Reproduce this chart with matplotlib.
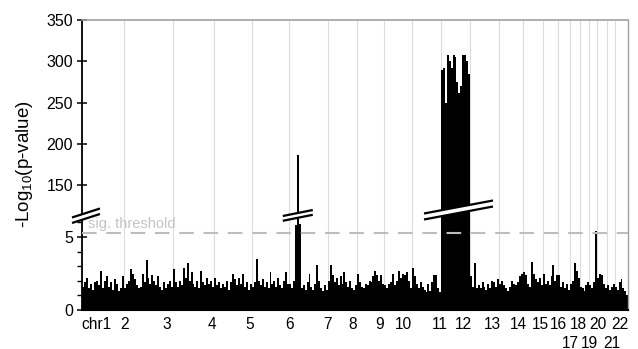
import numpy as np
import matplotlib
matplotlib.use("Agg")
import matplotlib.pyplot as plt
from matplotlib.transforms import blended_transform_factory

plt.rcParams["font.family"] = ["Liberation Sans", "DejaVu Sans"]
plt.rcParams["mathtext.default"] = "regular"
plt.rcParams["lines.scale_dashes"] = False

# --------------------------------------------------
# Data
# --------------------------------------------------

chrom_labels = ["chr1", "2", "3", "4", "5", "6", "7", "8", "9", "10", "11",
                "12", "13", "14", "15", "16", "17", "18", "19", "20",
                "21", "22"]

# labels that sit on a second row under the axis
second_row = ["17", "19", "21"]

# relative width of each chromosome on the x axis
chrom_sizes = [42, 49, 41, 38, 37, 39, 29, 27, 28, 29, 29,
               29, 24, 20, 15, 12, 10, 9, 8, 10, 8, 13]

# where each chromosome label sits on the x axis
label_pos = [14, 43, 85, 130, 168, 208, 245, 271, 298, 321, 358,
             381, 410, 436, 458, 476, 488, 496, 507, 516, 530, 538]

# -log10(p) along each chromosome, left to right
neglog_p = [
    [1.6, 1.9, 2.2, 1.5, 1.8, 1.4, 1.9, 2.0, 1.7, 2.7, 1.5, 2.0, 2.3, 1.6,
     1.9, 1.4, 2.1, 1.8, 1.3, 1.5, 2.3],
    [1.5, 1.8, 2.0, 2.8, 2.5, 2.1, 1.7, 1.5, 1.6, 2.5, 1.9, 3.4, 2.2, 1.8,
     2.4, 2.0, 1.7, 2.3, 1.6, 1.4, 1.9, 1.5, 1.8, 2.0, 1.6],
    [2.8, 1.9, 1.6, 2.0, 1.7, 2.9, 2.2, 3.2, 2.0, 2.6, 1.8, 1.6, 2.0, 1.5,
     2.7, 1.9, 1.7, 2.2, 1.8, 2.0, 1.6],
    [2.2, 1.7, 1.9, 1.5, 1.8, 1.6, 2.0, 1.4, 1.9, 2.5, 2.1, 1.7, 2.2, 1.8,
     2.5, 1.6, 1.9, 1.4, 1.8],
    [1.6, 1.9, 3.5, 2.0, 1.7, 2.1, 1.6, 1.9, 1.5, 2.6, 1.8, 2.0, 1.6, 2.2,
     1.7, 1.5, 2.0, 2.6, 1.8],
    [1.8, 1.5, 2.0, 5.8, 187, 5.9, 1.5, 1.7, 1.4, 1.9, 2.5, 1.6, 1.4, 1.8,
     3.1, 2.0, 1.5, 1.3, 1.7, 1.4],
    [2.0, 3.1, 2.4, 1.9, 2.2, 1.7, 2.3, 1.8, 2.6, 1.9, 1.6, 2.0, 1.5, 1.4, 1.7],
    [2.5, 1.9, 1.6, 1.5, 1.8, 1.7, 2.0, 1.9, 2.3, 2.7, 2.4, 2.0, 2.4, 1.8],
    [1.7, 1.5, 1.8, 1.9, 2.5, 1.7, 2.0, 2.7, 2.2, 2.5, 2.4, 2.6, 2.0, 1.5],
    [2.9, 2.3, 1.8, 1.5, 1.9, 1.6, 1.4, 1.2, 1.8, 1.3, 1.9, 2.4, 2.4, 1.5, 1.2],
    [290, 292, 250, 308, 300, 292, 308, 305, 275, 262, 270, 308, 308, 300, 285],
    [2.3, 1.6, 3.2, 1.5, 1.7, 1.5, 1.9, 1.6, 1.4, 1.8, 1.5, 2.0, 1.9, 1.6, 2.1],
    [1.8, 2.0, 1.7, 1.5, 1.3, 1.6, 2.0, 1.8, 1.7, 1.9, 2.3, 2.5],
    [2.6, 2.4, 1.8, 1.6, 3.3, 2.5, 2.1, 1.9, 2.2, 1.7],
    [2.5, 1.8, 2.0, 1.7, 2.3, 3.1, 2.0, 2.4],
    [2.4, 1.6, 1.9, 1.5, 1.8, 1.4],
    [1.8, 2.0, 3.2, 2.7, 2.2],
    [1.6, 1.5, 1.3, 1.7, 1.9],
    [1.7, 1.5, 1.9, 5.4],
    [2.2, 2.5, 2.4, 1.8, 1.5],
    [1.7, 1.4, 1.6, 1.8],
    [1.6, 1.4, 1.9, 2.1, 1.5, 1.3, 1.0],
]

sig_threshold = 5.3

upper_ticks = [150, 200, 250, 300, 350]
lower_ticks = [0, 5]

# --------------------------------------------------
# Positions
# --------------------------------------------------

starts = np.concatenate([[0], np.cumsum(chrom_sizes)[:-1]])
total = float(np.sum(chrom_sizes))

xs, ws, hs = [], [], []
for start, size, vals in zip(starts, chrom_sizes, neglog_p):
    n = len(vals)
    w = size / n
    for j, v in enumerate(vals):
        xs.append(start + (j + 0.5) * w)
        ws.append(w)
        hs.append(v)

# --------------------------------------------------
# Figure
# --------------------------------------------------

W, H = 638, 349
fig = plt.figure(figsize=(W / 100, H / 100), dpi=100)

left_px, right_px = 82, 628
top_px, break_px, bottom_px = 20, 215, 310

ax_hi = fig.add_axes([left_px / W, 1 - break_px / H,
                      (right_px - left_px) / W, (break_px - top_px) / H])
ax_lo = fig.add_axes([left_px / W, 1 - bottom_px / H,
                      (right_px - left_px) / W, (bottom_px - break_px) / H])

lo_top = (bottom_px - break_px) / (73.0 / 5)   # ~14.6 px per unit
hi_scale = (185 - 19.3) / 200.0                # px per unit in upper part
hi_bottom = 150 - (break_px - 185) / hi_scale

for ax in (ax_hi, ax_lo):
    ax.bar(xs, hs, width=ws, color="black", linewidth=0, zorder=2)
    ax.set_xlim(0, total)
    ax.set_xticks(starts)
    ax.set_xticklabels([])
    ax.xaxis.remove_overlapping_locs = False
    ax.grid(axis="x", which="major", color="#dcdcdc", linewidth=0.8, zorder=0)
    ax.set_axisbelow(True)
    ax.spines["left"].set_linewidth(1.3)
    ax.spines["left"].set_color("black")
    ax.spines["right"].set_color("#a0a0a0")
    ax.spines["right"].set_linewidth(1.0)
    ax.tick_params(axis="y", direction="inout", length=7, width=1.1,
                   labelsize=11.5, pad=3)

ax_hi.set_ylim(hi_bottom, 350)
ax_hi.set_yticks(upper_ticks)
ax_hi.spines["bottom"].set_visible(False)
ax_hi.spines["top"].set_color("#a0a0a0")
ax_hi.spines["top"].set_linewidth(1.2)
ax_hi.tick_params(axis="x", which="both", length=0, labelbottom=False)

ax_lo.set_ylim(0, lo_top)
ax_lo.set_yticks(lower_ticks)
ax_lo.set_yticks([1, 2, 3, 4, 6], minor=True)
ax_lo.tick_params(axis="y", which="minor", direction="out", length=3.5,
                  width=1.0)
ax_lo.spines["top"].set_visible(False)
ax_lo.spines["bottom"].set_linewidth(1.5)

row1 = [(p, lab) for p, lab in zip(label_pos, chrom_labels)
        if lab not in second_row]
row2 = [(p, lab) for p, lab in zip(label_pos, chrom_labels)
        if lab in second_row]
ax_lo.set_xticks([p for p, _ in row1], minor=True)
ax_lo.set_xticklabels([lab for _, lab in row1], minor=True)
ax_lo.tick_params(axis="x", which="both", length=0, labelsize=11.2, pad=5)

xtrans = blended_transform_factory(ax_lo.transData, ax_lo.transAxes)
row2_y = -(343 - bottom_px) / float(bottom_px - break_px)
for p, lab in row2:
    ax_lo.text(p, row2_y, lab, transform=xtrans, ha="center", va="center",
               fontsize=11.2)

# significance threshold
ax_lo.axhline(sig_threshold, color="#bdbdbd", linewidth=1.5,
              dashes=(10.5, 7), zorder=3)
ax_lo.text(6, sig_threshold + 0.3, "sig. threshold", color="#c4c4c4",
           fontsize=10.5, va="baseline", ha="left", zorder=3)

# axis break marks (drawn in px offsets around the break line)
trans = blended_transform_factory(ax_lo.transData, ax_lo.transAxes)
lo_h = float(bottom_px - break_px)


def break_mark(x0, x1, y0_px, y1_px, gap_px=5.5):
    # y given as pixel rows in the figure for the upper line
    ya0 = (bottom_px - y0_px) / lo_h
    ya1 = (bottom_px - y1_px) / lo_h
    g = gap_px / lo_h
    ax_lo.fill([x0, x1, x1, x0], [ya0, ya1, ya1 - g, ya0 - g],
               color="white", transform=trans, clip_on=False, zorder=5,
               linewidth=0)
    for off in (0, g):
        ax_lo.plot([x0, x1], [ya0 - off, ya1 - off], color="black",
                   linewidth=1.6, transform=trans, clip_on=False, zorder=6,
                   solid_capstyle="butt")


chr6_peak = xs[int(np.argmax(neglog_p[5])) + sum(len(v) for v in neglog_p[:5])]
chr11_lo, chr11_hi = starts[10], starts[10] + chrom_sizes[10]

break_mark(-10, 18, 217.5, 208.5)
break_mark(chr6_peak - 15, chr6_peak + 15, 216.0, 210.0, gap_px=4.8)
break_mark(chr11_lo - 17, chr11_hi + 23, 213.5, 200.5, gap_px=6.0)

fig.text(24.5 / W, 1 - 164 / H, "-Log$_{10}$(p-value)", rotation=90,
         ha="center", va="center", fontsize=13.5)

fig.savefig("out.png", dpi=100)
plt.close(fig)
print("Figure Saved.")
